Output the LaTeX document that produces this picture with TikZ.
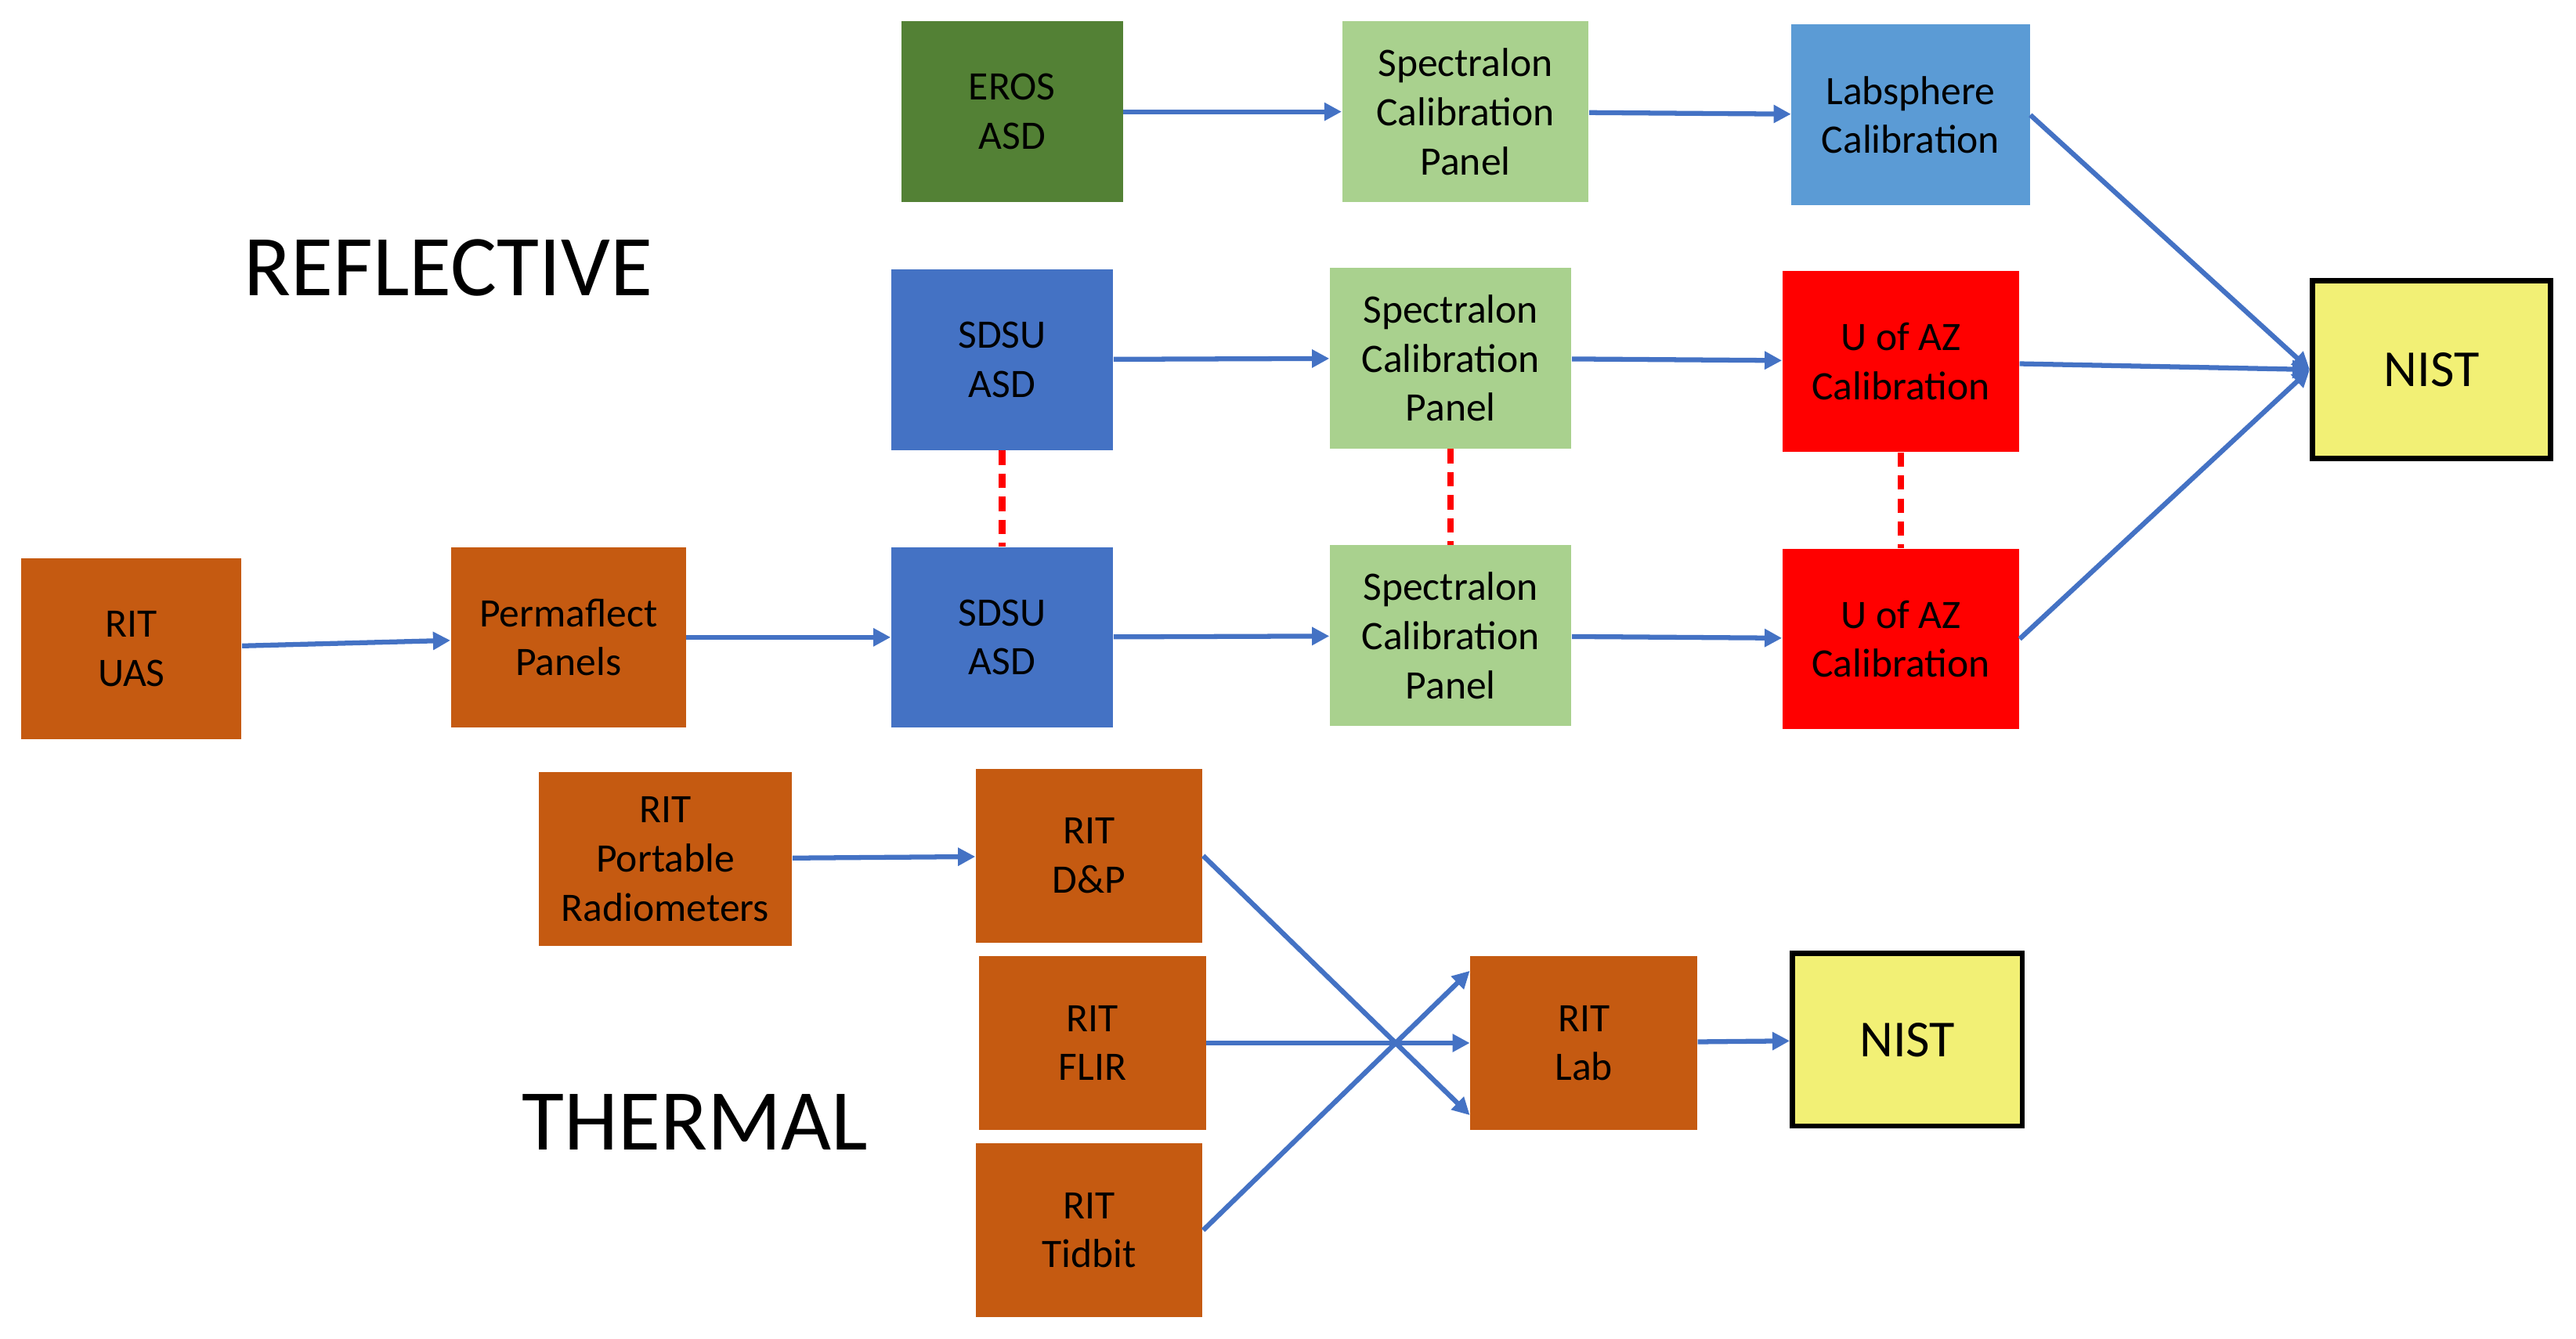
\documentclass[tikz,border=0pt]{standalone}
\usepackage{fontspec}
\setmainfont{Carlito}
\usetikzlibrary{arrows.meta}
\definecolor{darkgreen}{HTML}{538135}
\definecolor{lightgreen}{HTML}{A9D18E}
\definecolor{skyblue}{HTML}{5B9BD5}
\definecolor{royal}{HTML}{4472C4}
\definecolor{rust}{HTML}{C55A11}
\definecolor{lemon}{HTML}{F2F075}
\tikzset{
  box/.style={draw=none,align=center,inner sep=0pt,font=\fontsize{14}{17}\selectfont,
    minimum width=#1*0.02cm,minimum height=2.2cm},
  box/.default=138,
  flow/.style={-{Triangle[length=6pt,width=6pt]},royal,line width=1.7pt},
  link/.style={red,line width=2.2pt,dash pattern=on 5pt off 3pt},
  nist/.style={draw=black,line width=1.8pt,fill=lemon,minimum width=#1*0.02cm,
    minimum height=2.16cm,font=\fontsize{18}{21}\selectfont},
}
\begin{document}
\begin{tikzpicture}[x=0.02cm,y=-0.02cm]
\useasboundingbox (0,0) rectangle (1568,815);
% reflective chain
\node[box=135,fill=darkgreen] (eros) at (616,68) {EROS\\ASD};
\node[box=150,fill=lightgreen] (spec1) at (892,68) {Spectralon\\Calibration\\Panel};
\node[box=145,fill=skyblue] (lab1) at (1163,70) {Labsphere\\Calibration};
\node[box=135,fill=royal] (sdsu1) at (610,219) {SDSU\\ASD};
\node[box=147,fill=lightgreen] (spec2) at (883,218) {Spectralon\\Calibration\\Panel};
\node[box=144,fill=red] (uaz1) at (1157,220) {U of AZ\\Calibration};
\node[box=135,fill=royal] (sdsu2) at (610,388) {SDSU\\ASD};
\node[box=147,fill=lightgreen] (spec3) at (883,387) {Spectralon\\Calibration\\Panel};
\node[box=144,fill=red] (uaz2) at (1157,389) {U of AZ\\Calibration};
\node[box=134,fill=rust] (uas) at (80,395) {RIT\\UAS};
\node[box=143,fill=rust] (perma) at (346,388) {Permaflect\\Panels};
\node[nist=145] (nist1) at (1480,225) {NIST};
\node[font=\fontsize{30}{34}\selectfont] (refl) at (273,163) {REFLECTIVE};
% thermal chain
\node[box=154,fill=rust,minimum height=2.12cm] (port) at (405,523) {RIT\\Portable\\Radiometers};
\node[box,fill=rust,minimum height=2.12cm] (dp) at (663,521) {RIT\\D\&P};
\node[box,fill=rust,minimum height=2.12cm] (flir) at (665,635) {RIT\\FLIR};
\node[box,fill=rust,minimum height=2.12cm] (tid) at (663,749) {RIT\\Tidbit};
\node[box,fill=rust,minimum height=2.12cm] (rlab) at (964,635) {RIT\\Lab};
\node[nist=140,minimum height=2.1cm] (nist2) at (1161,633) {NIST};
\node[font=\fontsize{30}{34}\selectfont] (therm) at (423,683) {THERMAL};
% connectors
\draw[flow] (eros) -- (spec1);
\draw[flow] (spec1) -- (lab1);
\draw[flow] (lab1.east) -- (nist1.west);
\draw[flow] (sdsu1) -- (spec2);
\draw[flow] (spec2) -- (uaz1);
\draw[flow] (uaz1) -- (nist1.west);
\draw[flow] (uas) -- (perma);
\draw[flow] (perma) -- (sdsu2);
\draw[flow] (sdsu2) -- (spec3);
\draw[flow] (spec3) -- (uaz2);
\draw[flow] (uaz2.east) -- (nist1.west);
\draw[link] (sdsu1) -- (sdsu2);
\draw[link] (spec2) -- (spec3);
\draw[link] (uaz1) -- (uaz2);
\draw[flow] (port) -- (dp);
\draw[flow] (dp.east) -- ([yshift=-25]rlab.west);
\draw[flow] (flir) -- (rlab);
\draw[flow] (tid.east) -- ([yshift=25]rlab.west);
\draw[flow] (rlab) -- (nist2);
\end{tikzpicture}
\end{document}
